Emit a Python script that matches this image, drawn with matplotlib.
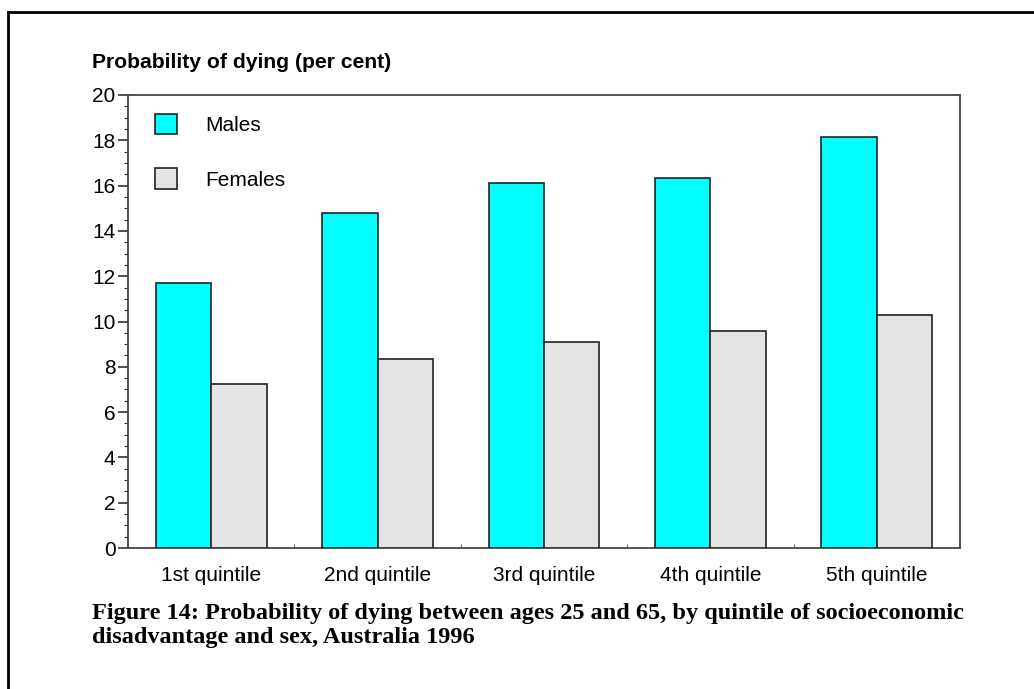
import matplotlib
matplotlib.use('Agg')
import matplotlib.pyplot as plt
from matplotlib.lines import Line2D
from matplotlib.ticker import MultipleLocator
import numpy as np

# Data
quintiles = ['1st quintile', '2nd quintile', '3rd quintile', '4th quintile', '5th quintile']
males = [11.7, 14.8, 16.1, 16.35, 18.15]
females = [7.25, 8.35, 9.1, 9.6, 10.3]

plt.rcParams['font.family'] = ['Liberation Sans', 'DejaVu Sans']

W, H = 1034, 689
fig = plt.figure(figsize=(W / 100, H / 100), dpi=100)
ax = fig.add_axes([128 / W, 1 - 548 / H, (960 - 128) / W, (548 - 95) / H])

x = np.arange(len(quintiles)) + 0.5
bw = 1 / 3
ax.bar(x - bw / 2, males, width=bw, color='#00ffff', edgecolor='#222222', linewidth=1.2, label='Males', zorder=3)
ax.bar(x + bw / 2, females, width=bw, color='#e4e4e4', edgecolor='#222222', linewidth=1.2, label='Females', zorder=3)

ax.set_xlim(0, len(quintiles))
ax.set_ylim(0, 20)
ax.yaxis.set_major_locator(MultipleLocator(2))
ax.yaxis.set_minor_locator(MultipleLocator(0.5))
ax.set_xticks(x)
ax.set_xticklabels(quintiles)
ax.set_xticks(np.arange(1, len(quintiles)), minor=True)
ax.tick_params(axis='x', which='major', length=0, pad=13, labelsize=15)
ax.tick_params(axis='x', which='minor', length=3, direction='in', color='#444444')
ax.tick_params(axis='y', which='major', length=7, width=1.2, labelsize=15, pad=2, color='#333333')
ax.tick_params(axis='y', which='minor', length=3, width=0.8, color='#333333')
for s in ax.spines.values():
    s.set_color('#444444')
    s.set_linewidth(1.3)

fig.text(92 / W, 1 - 63 / H, 'Probability of dying (per cent)', fontsize=15.2,
         fontweight='bold', va='center', ha='left')

ax.legend(loc='upper left', bbox_to_anchor=(0.010, 1.0), frameon=False, fontsize=15,
          handlelength=1.06, handleheight=1.15, labelspacing=1.6, handletextpad=1.35)

# outer frame (top and left edges)
fig.add_artist(Line2D([8 / W, 8 / W], [0, 1 - 12 / H], color='black', linewidth=2, transform=fig.transFigure))
fig.add_artist(Line2D([8 / W, 1], [1 - 12 / H, 1 - 12 / H], color='black', linewidth=2, transform=fig.transFigure))

fig.text(92 / W, 1 - 603 / H,
         'Figure 14: Probability of dying between ages 25 and 65, by quintile of socioeconomic\n'
         'disadvantage and sex, Australia 1996',
         family=['Liberation Serif', 'DejaVu Serif'], fontweight='bold', fontsize=17.5,
         va='top', ha='left', linespacing=1.2)

fig.savefig('out.png', dpi=100)
